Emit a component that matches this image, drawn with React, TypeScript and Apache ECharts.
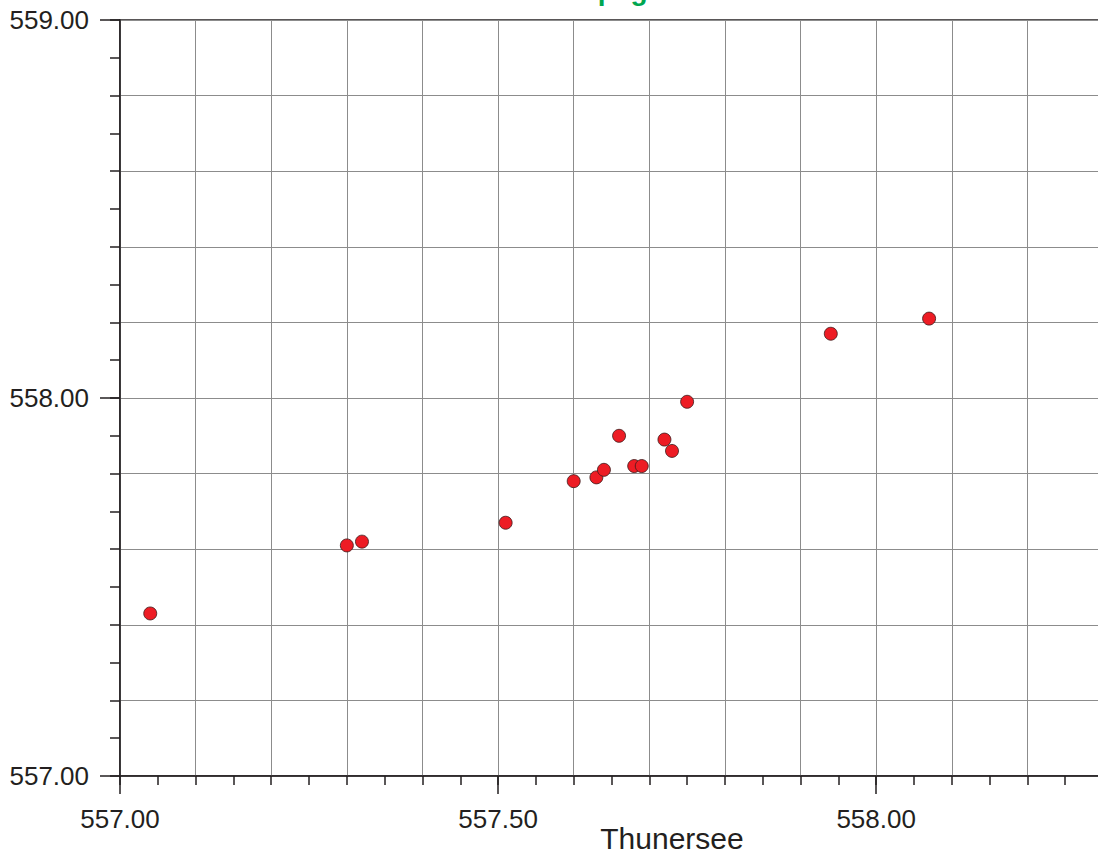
import React, { useEffect, useRef } from "react";
import * as echarts from "echarts";

// Thunersee (x) vs. gauge level (y), metres above sea level
const thunersee = [557.04, 557.30, 557.32, 557.51, 557.60, 557.63, 557.64, 557.66, 557.68, 557.69, 557.72, 557.73, 557.75, 557.94, 558.07];
const gauge = [557.43, 557.61, 557.62, 557.67, 557.78, 557.79, 557.81, 557.90, 557.82, 557.82, 557.89, 557.86, 557.99, 558.17, 558.21];

const xRange = [557.0, 558.46];
const yRange = [557.0, 559.0];
const xLabelStep = 0.5;
const xGridStep = 0.1;
const yLabelStep = 1.0;
const yGridStep = 0.2;
const xName = "Thunersee";
const titleText = "Seepegel";

export default function App() {
  const ref = useRef<HTMLDivElement>(null);
  useEffect(() => {
    document.body.style.margin = "0";
    const chart = echarts.init(ref.current!, null, { renderer: "svg" });
    const font = "'Liberation Sans', Arial, Helvetica, sans-serif";
    const labelStyle = { fontFamily: font, fontSize: 26, color: "#231f20" };
    const points = thunersee.map((x, i) => [x, gauge[i]]);
    chart.setOption({
      animation: false,
      backgroundColor: "#ffffff",
      grid: {
        left: 120,
        top: 20,
        bottom: 78,
        right: -126,
        outerBoundsMode: "none",
        containLabel: false,
        show: true,
        borderColor: "#231f20",
        borderWidth: 1.5,
        backgroundColor: "transparent",
      },
      graphic: [
        {
          type: "text",
          left: 548,
          top: -24,
          style: {
            text: titleText,
            fontFamily: font,
            fontSize: 28,
            fontWeight: "bold",
            fill: "#00a650",
          },
        },
      ],
      xAxis: [
        {
          type: "value",
          min: xRange[0],
          max: xRange[1],
          interval: xLabelStep,
          position: "bottom",
          name: xName,
          nameLocation: "middle",
          nameGap: 47,
          nameMoveOverlap: false,
          nameTextStyle: { fontFamily: font, fontSize: 30, color: "#231f20" },
          axisLine: { show: true, lineStyle: { color: "#231f20", width: 1.5 } },
          axisTick: { show: true, inside: false, length: 18, lineStyle: { color: "#231f20", width: 1.5 } },
          axisLabel: {
            ...labelStyle,
            margin: 30,
            showMaxLabel: false,
            formatter: (v: number) => v.toFixed(2),
          },
          splitLine: { show: false },
        },
        {
          type: "value",
          min: xRange[0],
          max: xRange[1],
          interval: xGridStep,
          position: "bottom",
          axisLine: { show: false },
          axisTick: { show: true, length: 9, lineStyle: { color: "#231f20", width: 1.5 } },
          minorTick: { show: true, splitNumber: 2, length: 9, lineStyle: { color: "#231f20", width: 1.5 } },
          axisLabel: { show: false },
          splitLine: { show: true, lineStyle: { color: "#8c8c8c", width: 1 } },
        },
      ],
      yAxis: [
        {
          type: "value",
          min: yRange[0],
          max: yRange[1],
          interval: yLabelStep,
          position: "left",
          axisLine: { show: true, lineStyle: { color: "#231f20", width: 1.5 } },
          axisTick: { show: true, length: 20, lineStyle: { color: "#231f20", width: 1.5 } },
          axisLabel: {
            ...labelStyle,
            margin: 31,
            formatter: (v: number) => v.toFixed(2),
          },
          splitLine: { show: false },
        },
        {
          type: "value",
          min: yRange[0],
          max: yRange[1],
          interval: yGridStep,
          position: "left",
          axisLine: { show: false },
          axisTick: { show: true, length: 10, lineStyle: { color: "#231f20", width: 1.5 } },
          minorTick: { show: true, splitNumber: 2, length: 10, lineStyle: { color: "#231f20", width: 1.5 } },
          axisLabel: { show: false },
          splitLine: { show: true, lineStyle: { color: "#8c8c8c", width: 1 } },
        },
      ],
      series: [
        {
          type: "scatter",
          xAxisIndex: 0,
          yAxisIndex: 0,
          data: points,
          symbol: "circle",
          symbolSize: 13,
          itemStyle: { color: "#ed1c24", opacity: 1, borderColor: "#3a1a1a", borderWidth: 0.8 },
          z: 10,
        },
      ],
    });
    return () => chart.dispose();
  }, []);
  return <div ref={ref} style={{ width: 1098, height: 854 }} />;
}
